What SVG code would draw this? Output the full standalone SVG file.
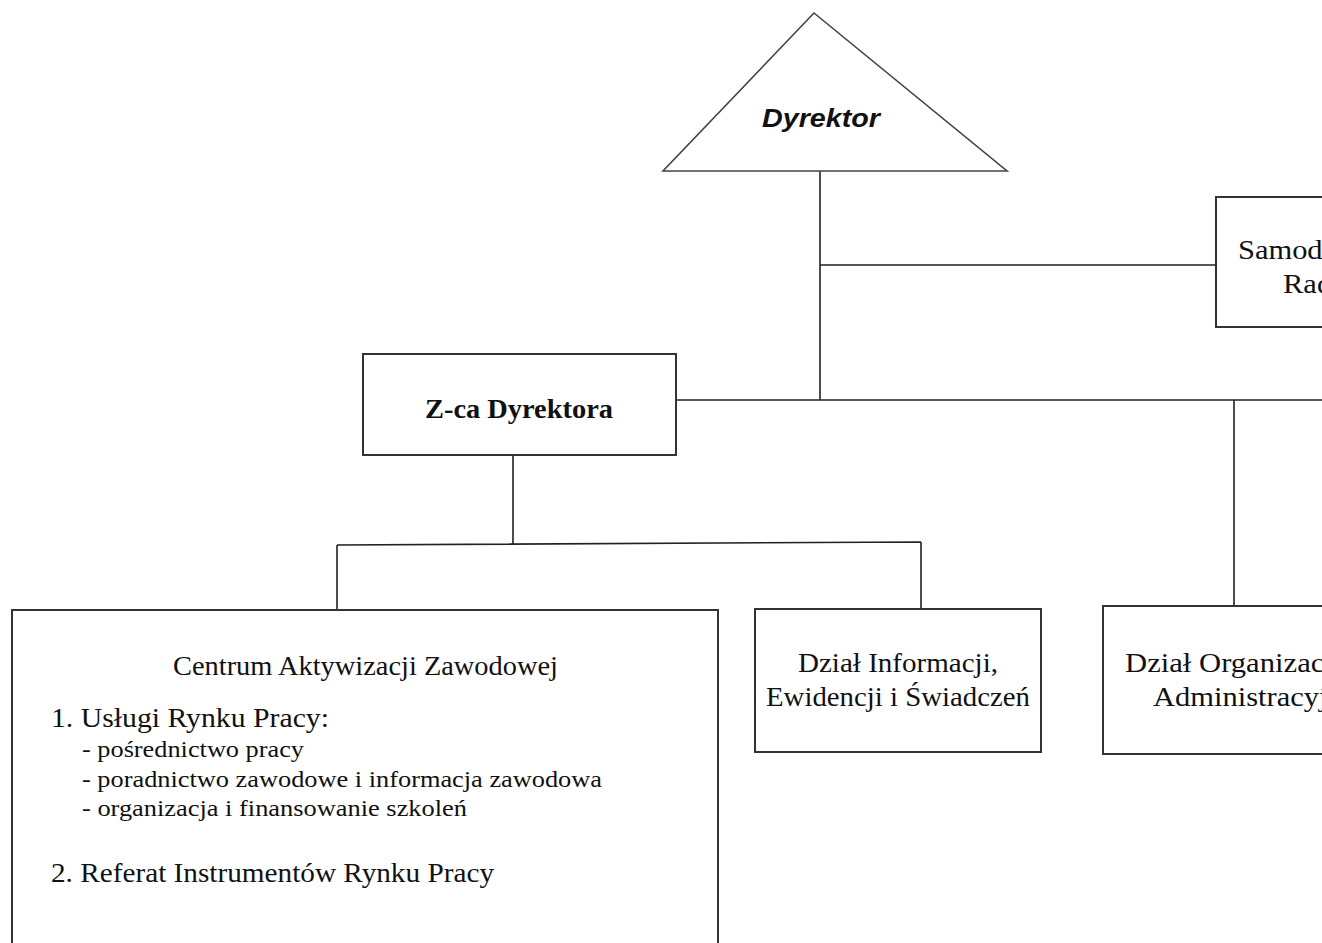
<svg xmlns="http://www.w3.org/2000/svg" width="1322" height="943" viewBox="0 0 1322 943">
<style>
.box{fill:#fff;stroke:#333;stroke-width:2}
.con{fill:none;stroke:#222;stroke-width:1.6}
.t{font-family:"Liberation Serif","Times New Roman",serif;fill:#111}
.c{text-anchor:middle}
</style>
<rect width="1322" height="943" fill="#fff"/>
<g id="connectors">
<path class="con" d="M820 171V400M820 265H1216M677 400H1322M1234 400V606"/>
<path class="con" d="M513 455V544M337 545L921 542M337 545V610M921 542V609"/>
</g>
<g id="dyrektor">
<polygon points="814,13 663,171 1007,171" fill="#fff" stroke="#444" stroke-width="1.6"/>
<text x="821" y="127" font-family="Liberation Sans, Arial, sans-serif" font-weight="bold" font-style="italic" font-size="26" text-anchor="middle" textLength="118" lengthAdjust="spacingAndGlyphs" fill="#111">Dyrektor</text>
</g>
<g id="samodzielne">
<rect class="box" x="1216" y="197" width="200" height="130"/>
<text class="t" x="1238" y="259" font-size="27" textLength="307" lengthAdjust="spacingAndGlyphs">Samodzielne Stanowisko</text>
<text class="t" x="1283" y="293" font-size="27" textLength="177" lengthAdjust="spacingAndGlyphs">Radca Prawny</text>
</g>
<g id="zca">
<rect class="box" x="363" y="354" width="313" height="101"/>
<text class="t c" x="519" y="418" font-size="27" font-weight="bold" textLength="188" lengthAdjust="spacingAndGlyphs">Z-ca Dyrektora</text>
</g>
<g id="caz">
<rect class="box" x="12" y="610" width="706" height="345"/>
<text class="t" x="173" y="675" font-size="27" textLength="385" lengthAdjust="spacingAndGlyphs">Centrum Aktywizacji Zawodowej</text>
<text class="t" x="51" y="727" font-size="27" textLength="278" lengthAdjust="spacingAndGlyphs">1.  Usługi Rynku Pracy:</text>
<text class="t" x="82" y="757" font-size="24" textLength="222" lengthAdjust="spacingAndGlyphs">- pośrednictwo pracy</text>
<text class="t" x="82" y="787" font-size="24" textLength="520" lengthAdjust="spacingAndGlyphs">- poradnictwo zawodowe i informacja zawodowa</text>
<text class="t" x="82" y="816" font-size="24" textLength="385" lengthAdjust="spacingAndGlyphs">- organizacja i finansowanie szkoleń</text>
<text class="t" x="51" y="882" font-size="27" textLength="443" lengthAdjust="spacingAndGlyphs">2.  Referat Instrumentów Rynku Pracy</text>
</g>
<g id="dzial-informacji">
<rect class="box" x="755" y="609" width="286" height="143"/>
<text class="t c" x="898" y="672" font-size="27" textLength="200" lengthAdjust="spacingAndGlyphs">Dział Informacji,</text>
<text class="t c" x="898" y="706" font-size="27" textLength="264" lengthAdjust="spacingAndGlyphs">Ewidencji i Świadczeń</text>
</g>
<g id="dzial-organizacji">
<rect class="box" x="1103" y="606" width="300" height="148"/>
<text class="t" x="1125" y="672" font-size="27" textLength="264" lengthAdjust="spacingAndGlyphs">Dział Organizacyjno-</text>
<text class="t" x="1153" y="706" font-size="27" textLength="205" lengthAdjust="spacingAndGlyphs">Administracyjny</text>
</g>
</svg>
